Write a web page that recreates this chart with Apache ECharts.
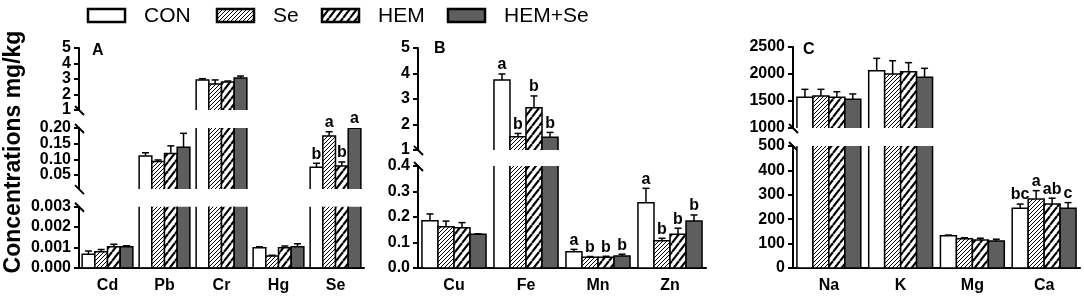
<!DOCTYPE html>
<html>
<head>
<meta charset="utf-8">
<script src="https://cdn.jsdelivr.net/npm/echarts@6/dist/echarts.min.js"></script>
<style>
  html, body { margin: 0; background: #fff; }
  #chart { width: 1084px; height: 303px; }
</style>
</head>
<body>
<div id="chart"></div>
<script>
const groups = ['CON', 'Se', 'HEM', 'HEM+Se'];

// Panel A
const catsA = ['Cd', 'Pb', 'Cr', 'Hg', 'Se'];
const conA = [0.00066, 0.111, 2.94, 0.00098, 0.0746];
const seA = [0.00079, 0.093, 2.68, 0.00058, 0.1746];
const hemA = [0.00103, 0.119, 2.80, 0.00098, 0.0788];
const hemSeA = [0.00103, 0.1385, 3.06, 0.00103, 0.199];
const conSdA = [0.00016, 0.010, 0.08, 0.00005, 0.0128];
const seSdA = [0.00010, 0.005, 0.26, 0.00003, 0.0134];
const hemSdA = [0.00012, 0.024, 0.07, 0.00009, 0.0128];
const hemSeSdA = [0.00005, 0.0445, 0.13, 0.00015, 0.0025];
const letA = [['', '', '', '', 'b'], ['', '', '', '', 'a'], ['', '', '', '', 'b'], ['', '', '', '', 'a']];
const ticksA = [['1', '2', '3', '4', '5'], ['0.05', '0.10', '0.15', '0.20'], ['0.000', '0.001', '0.002', '0.003']];
const rangeA = [[1, 5], [0.005, 0.2], [0, 0.003]];

// Panel B
const catsB = ['Cu', 'Fe', 'Mn', 'Zn'];
const conB = [0.1855, 3.745, 0.064, 0.256];
const seB = [0.162, 1.52, 0.042, 0.107];
const hemB = [0.158, 2.66, 0.042, 0.132];
const hemSeB = [0.132, 1.50, 0.047, 0.184];
const conSdB = [0.0265, 0.235, 0.009, 0.0565];
const seSdB = [0.022, 0.13, 0.003, 0.0095];
const hemSdB = [0.020, 0.46, 0.004, 0.024];
const hemSeSdB = [0.002, 0.19, 0.007, 0.024];
const letB = [['', 'a', 'a', 'a'], ['', 'b', 'b', 'b'], ['', 'b', 'b', 'b'], ['', 'b', 'b', 'b']];
const ticksB = [['1', '2', '3', '4', '5'], ['0.0', '0.1', '0.2', '0.3', '0.4']];
const rangeB = [[1, 5], [0, 0.4]];

// Panel C
const catsC = ['Na', 'K', 'Mg', 'Ca'];
const conC = [1568, 2061, 132, 245];
const seC = [1593, 2000, 120, 283];
const hemC = [1568, 2043, 115, 262];
const hemSeC = [1531, 1938, 111, 245];
const conSdC = [148, 229, 3, 17];
const seSdC = [123, 246, 4, 34];
const hemSdC = [104, 167, 7, 24];
const hemSeSdC = [99, 167, 7, 23];
const letC = [['', '', '', 'bc'], ['', '', '', 'a'], ['', '', '', 'ab'], ['', '', '', 'c']];
const ticksC = [['1000', '1500', '2000', '2500'], ['0', '100', '200', '300', '400', '500']];
const rangeC = [[1000, 2500], [0, 500]];

const FONT = '"Liberation Sans", Arial, sans-serif';

function hatch(w, h, lw) {
  const c = document.createElement('canvas');
  c.width = w; c.height = h;
  const g = c.getContext('2d');
  g.fillStyle = '#fff';
  g.fillRect(0, 0, w, h);
  g.strokeStyle = '#000';
  g.lineWidth = lw;
  for (let k = -1; k <= 1; k++) {
    g.beginPath();
    g.moveTo(k * w, h);
    g.lineTo((k + 1) * w, 0);
    g.stroke();
  }
  return { image: c, repeat: 'repeat' };
}
const fills = ['#fff', hatch(4, 4, 1), hatch(7, 9, 2.2), '#5e5e5e'];

// layout of each panel: axis left, width, and pixel top/bottom of each axis segment
const panels = [
  { cats: catsA, means: [conA, seA, hemA, hemSeA], sds: [conSdA, seSdA, hemSdA, hemSeSdA], lets: letA,
    ticks: ticksA, ranges: rangeA, left: 79, width: 285, label: 'A', labelX: 92, labelY: 51,
    segs: [[48, 110], [128, 189.1], [206.7, 267.7]] },
  { cats: catsB, means: [conB, seB, hemB, hemSeB], sds: [conSdB, seSdB, hemSdB, hemSeSdB], lets: letB,
    ticks: ticksB, ranges: rangeB, left: 418, width: 288, label: 'B', labelX: 434, labelY: 49,
    segs: [[48, 150], [166, 268]] },
  { cats: catsC, means: [conC, seC, hemC, hemSeC], sds: [conSdC, seSdC, hemSdC, hemSeSdC], lets: letC,
    ticks: ticksC, ranges: rangeC, left: 793, width: 287, label: 'C', labelX: 803, labelY: 50,
    segs: [[47, 128], [146, 268]] }
];

const grid = [], xAxis = [], yAxis = [], series = [], graphic = [];
const axisText = { color: '#000', fontFamily: FONT, fontWeight: 'bold', fontSize: 16 };

// value axis showing only some of the tick labels (alternate ticks go on a twin axis so none get hidden)
function valueAxis(gi, lo, hi, labels, vals, showLine) {
  return {
    type: 'value', gridIndex: gi, min: lo, max: hi, position: 'left', offset: 0,
    axisLine: { show: showLine, onZero: false, lineStyle: { color: '#000', width: 2 } },
    axisTick: { show: true, length: 5, customValues: vals, lineStyle: { color: '#000', width: 2 } },
    axisLabel: Object.assign({
      margin: 8, customValues: vals, showMinLabel: true, showMaxLabel: true,
      formatter: v => labels.find(l => Math.abs(Number(l) - v) < 1e-9) || ''
    }, axisText),
    splitLine: { show: false }
  };
}

panels.forEach(p => {
  p.segs.forEach((s, si) => {
    const gi = grid.length;
    const last = si === p.segs.length - 1;
    const [lo, hi] = p.ranges[si];
    const labels = p.ticks[si];
    const vals = labels.map(Number);
    grid.push({ left: p.left, top: s[0], width: p.width, height: s[1] - s[0], outerBoundsMode: 'none' });
    xAxis.push({
      type: 'category', gridIndex: gi, data: p.cats, show: last,
      axisLine: { lineStyle: { color: '#000', width: 2 } },
      axisTick: { alignWithLabel: true, length: 5, lineStyle: { color: '#000', width: 2 } },
      axisLabel: Object.assign({ margin: 10, interval: 0 }, axisText),
      splitLine: { show: false }
    });
    const yi = yAxis.length;
    yAxis.push(valueAxis(gi, lo, hi, labels, vals.filter((v, k) => k % 2 === 0), true));
    yAxis.push(valueAxis(gi, lo, hi, labels, vals.filter((v, k) => k % 2 === 1), false));

    for (let g = 0; g < 4; g++) {
      const data = p.cats.map((c, i) => [i, p.means[g][i], p.sds[g][i]]);
      const geom = (params, api) => {
        const i = api.value(0);
        const band = params.coordSys.width / p.cats.length;
        const w = band * 0.89 / 4;
        const cx = api.coord([i, 0])[0];
        const x = cx - 2 * w + g * w;
        return {
          x, w, mid: x + w / 2,
          y0: api.coord([i, 0])[1],
          y1: api.coord([i, api.value(1)])[1],
          y2: api.coord([i, api.value(1) + api.value(2)])[1]
        };
      };
      series.push({
        type: 'custom', name: groups[g], xAxisIndex: gi, yAxisIndex: yi, clip: true, silent: true,
        encode: { x: 0, y: 1 }, data,
        renderItem: (params, api) => {
          const q = geom(params, api);
          const ln = { stroke: '#000', lineWidth: 1.5 };
          return {
            type: 'group', children: [
              { type: 'rect', shape: { x: q.x, y: q.y1, width: q.w, height: q.y0 - q.y1 },
                style: { fill: fills[g], stroke: '#000', lineWidth: 1.5 } },
              { type: 'line', shape: { x1: q.mid, y1: q.y1, x2: q.mid, y2: q.y2 }, style: ln },
              { type: 'line', shape: { x1: q.mid - 3.5, y1: q.y2, x2: q.mid + 3.5, y2: q.y2 }, style: ln }
            ]
          };
        }
      });
      series.push({
        type: 'custom', xAxisIndex: gi, yAxisIndex: yi, clip: false, silent: true,
        encode: { x: 0, y: 1 }, data, z: 5,
        renderItem: (params, api) => {
          const i = api.value(0);
          const v = api.value(1);
          const txt = p.lets[g][i];
          if (!txt || v < lo || v > hi) return null;
          const q = geom(params, api);
          return {
            type: 'text', x: q.mid, y: q.y2 - 1,
            style: { text: txt, fill: '#000', font: 'bold 16px ' + FONT, align: 'center', verticalAlign: 'bottom' }
          };
        }
      });
    }
  });

  // axis break marks
  for (let si = 0; si < p.segs.length - 1; si++) {
    [p.segs[si][1], p.segs[si + 1][0]].forEach(y => {
      graphic.push({ type: 'line', silent: true,
        shape: { x1: p.left - 4, y1: y - 4, x2: p.left + 5, y2: y + 5 },
        style: { stroke: '#000', lineWidth: 2 } });
    });
  }
  graphic.push({ type: 'text', x: p.labelX, y: p.labelY,
    style: { text: p.label, fill: '#000', font: 'bold 16px ' + FONT, align: 'left', verticalAlign: 'middle' } });
});

// legend
const legendX = [88, 217, 322, 448];
groups.forEach((name, g) => {
  graphic.push({ type: 'rect', silent: true, shape: { x: legendX[g], y: 9, width: 37, height: 13 },
    style: { fill: fills[g], stroke: '#000', lineWidth: 2.5 } });
  graphic.push({ type: 'text', x: legendX[g] + 56, y: 16,
    style: { text: name, fill: '#000', font: '21px ' + FONT, align: 'left', verticalAlign: 'middle' } });
});

graphic.push({ type: 'text', x: 14, y: 152, rotation: Math.PI / 2,
  style: { text: 'Concentrations mg/kg', fill: '#000', font: 'bold 23px ' + FONT, align: 'center', verticalAlign: 'middle' } });

const chart = echarts.init(document.getElementById('chart'));
chart.setOption({
  animation: false,
  backgroundColor: '#fff',
  grid, xAxis, yAxis, series, graphic
});
</script>
</body>
</html>
